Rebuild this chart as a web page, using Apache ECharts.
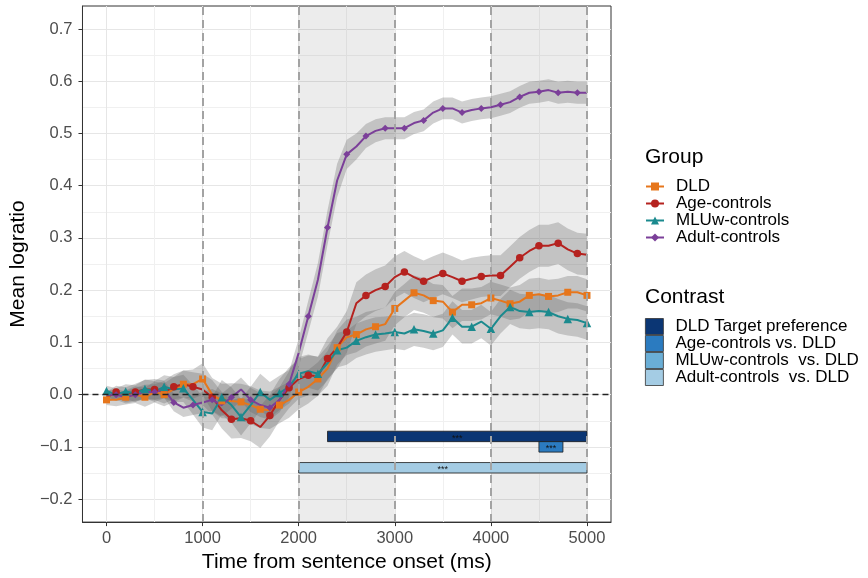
<!DOCTYPE html>
<html>
<head>
<meta charset="utf-8">
<script src="https://cdn.jsdelivr.net/npm/echarts@6/dist/echarts.min.js"></script>
<style>
  html, body { margin: 0; padding: 0; background: #fff; }
  #chart { width: 868px; height: 578px; }
</style>
</head>
<body>
<div id="chart"></div>
<script>
var timeMs = [0, 100, 200, 300, 400, 500, 600, 700, 800, 900, 1000,
  1100, 1200, 1300, 1400, 1500, 1600, 1700, 1800, 1900, 2000,
  2100, 2200, 2300, 2400, 2500, 2600, 2700, 2800, 2900, 3000,
  3100, 3200, 3300, 3400, 3500, 3600, 3700, 3800, 3900, 4000,
  4100, 4200, 4300, 4400, 4500, 4600, 4700, 4800, 4900, 5000];

var dldMean = [-0.01, -0.01, -0.005, 0.0, -0.005, 0.005, 0.0, 0.01, 0.02, 0.02, 0.03,
  0.0, -0.012, -0.012, -0.014, -0.02, -0.028, -0.03, -0.02, -0.01, 0.005,
  0.015, 0.03, 0.05, 0.09, 0.11, 0.115, 0.125, 0.13, 0.135, 0.165,
  0.18, 0.195, 0.19, 0.18, 0.178, 0.158, 0.172, 0.172, 0.175, 0.185,
  0.18, 0.174, 0.178, 0.19, 0.192, 0.188, 0.19, 0.196, 0.196, 0.19];
var ageMean = [-0.005, 0.005, 0.0, 0.005, 0.01, 0.01, 0.005, 0.015, 0.02, 0.015, 0.01,
  -0.005, -0.03, -0.047, -0.045, -0.05, -0.062, -0.04, -0.01, 0.013, 0.03,
  0.037, 0.035, 0.069, 0.09, 0.12, 0.175, 0.19, 0.2, 0.207, 0.225,
  0.235, 0.225, 0.217, 0.225, 0.232, 0.225, 0.217, 0.222, 0.226, 0.228,
  0.228, 0.245, 0.262, 0.275, 0.285, 0.285, 0.29, 0.278, 0.27, 0.268];
var mluMean = [0.007, 0.0, 0.006, 0.002, 0.011, 0.006, 0.015, 0.01, 0.012, -0.01, -0.033,
  -0.036, -0.005, -0.02, -0.043, -0.02, 0.005, -0.01, 0.003, 0.015, 0.04,
  0.045, 0.04, 0.06, 0.085, 0.09, 0.103, 0.11, 0.115, 0.117, 0.12,
  0.117, 0.125, 0.122, 0.117, 0.123, 0.147, 0.13, 0.13, 0.14, 0.126,
  0.15, 0.168, 0.16, 0.158, 0.16, 0.158, 0.15, 0.145, 0.143, 0.137];
var adultMean = [0.0, 0.0, -0.005, 0.0, 0.005, 0.005, 0.01, -0.015, -0.025, -0.02, -0.015,
  -0.01, -0.02, -0.005, 0.01, -0.01, -0.02, -0.025, -0.01, 0.02, 0.08,
  0.15, 0.22, 0.32, 0.41, 0.46, 0.475, 0.495, 0.505, 0.51, 0.51,
  0.51, 0.52, 0.525, 0.54, 0.548, 0.548, 0.54, 0.545, 0.548, 0.55,
  0.555, 0.56, 0.57, 0.578, 0.58, 0.583, 0.578, 0.58, 0.578, 0.578];

// half widths of the grey confidence ribbons
var dldCi = [0.01, 0.012, 0.014, 0.016, 0.018, 0.02, 0.022, 0.024, 0.026, 0.028, 0.03,
  0.032, 0.033, 0.034, 0.035, 0.036, 0.036, 0.036, 0.035, 0.034, 0.033,
  0.032, 0.032, 0.033, 0.033, 0.034, 0.034, 0.033, 0.032, 0.032, 0.032,
  0.032, 0.033, 0.033, 0.032, 0.032, 0.031, 0.031, 0.031, 0.031, 0.031,
  0.031, 0.031, 0.032, 0.032, 0.032, 0.032, 0.032, 0.031, 0.031, 0.031];
var ageCi = [0.01, 0.012, 0.014, 0.016, 0.018, 0.02, 0.022, 0.024, 0.026, 0.028, 0.03,
  0.033, 0.035, 0.037, 0.038, 0.039, 0.04, 0.04, 0.04, 0.039, 0.038,
  0.038, 0.038, 0.039, 0.04, 0.04, 0.04, 0.04, 0.04, 0.04, 0.04,
  0.04, 0.04, 0.04, 0.04, 0.04, 0.04, 0.04, 0.04, 0.039, 0.039,
  0.039, 0.039, 0.04, 0.04, 0.04, 0.04, 0.04, 0.04, 0.04, 0.04];
var mluCi = [0.01, 0.012, 0.014, 0.016, 0.018, 0.02, 0.022, 0.024, 0.026, 0.028, 0.03,
  0.032, 0.033, 0.034, 0.035, 0.035, 0.035, 0.034, 0.033, 0.032, 0.032,
  0.032, 0.032, 0.033, 0.033, 0.033, 0.033, 0.033, 0.033, 0.032, 0.032,
  0.032, 0.032, 0.032, 0.032, 0.032, 0.032, 0.032, 0.032, 0.032, 0.032,
  0.033, 0.033, 0.033, 0.033, 0.033, 0.033, 0.033, 0.032, 0.032, 0.032];
var adultCi = [0.008, 0.01, 0.012, 0.013, 0.014, 0.015, 0.016, 0.017, 0.018, 0.019, 0.02,
  0.021, 0.022, 0.022, 0.023, 0.023, 0.023, 0.023, 0.024, 0.025, 0.027,
  0.03, 0.032, 0.033, 0.032, 0.028, 0.025, 0.023, 0.022, 0.021, 0.021,
  0.021, 0.021, 0.021, 0.021, 0.021, 0.021, 0.021, 0.021, 0.021, 0.021,
  0.021, 0.021, 0.021, 0.021, 0.021, 0.021, 0.021, 0.021, 0.021, 0.021];

var groupNames = ['DLD', 'Age-controls', 'MLUw-controls', 'Adult-controls'];
var groupMeans = [dldMean, ageMean, mluMean, adultMean];
var groupCis = [dldCi, ageCi, mluCi, adultCi];
var groupColors = ['#e6761c', '#b5221f', '#1b8a8e', '#7b3f99'];
var groupSymbols = ['rect', 'circle', 'triangle', 'diamond'];
var groupSymbolSizes = [7, 7.5, 8.5, 7];
var markerPhase = [0, 1, 0, 1];

var contrastNames = ['DLD Target preference', 'Age-controls vs. DLD',
  'MLUw-controls  vs. DLD', 'Adult-controls  vs. DLD'];
var contrastColors = ['#0b3674', '#2b7bc0', '#6aaed6', '#a4cce4'];
var contrastStart = [2300, 4500, null, 2000];
var contrastEnd = [5000, 4750, null, 5000];
var contrastLevel = [-0.08, -0.10, -0.12, -0.14];

var xMajor = [0, 1000, 2000, 3000, 4000, 5000];
var xMinor = [500, 1500, 2500, 3500, 4500];
var yMajor = [-0.2, -0.1, 0.0, 0.1, 0.2, 0.3, 0.4, 0.5, 0.6, 0.7];
var yMinor = [-0.15, -0.05, 0.05, 0.15, 0.25, 0.35, 0.45, 0.55, 0.65];
var refTimes = [1000, 2000, 3000, 4000, 5000];
var shadeBands = [[2000, 3000], [4000, 5000]];

var FONT = '"Liberation Sans", Arial, sans-serif';
var chart = echarts.init(document.getElementById('chart'), null, { renderer: 'canvas' });

function ribbon(k) {
  var mean = groupMeans[k], ci = groupCis[k];
  return {
    type: 'custom',
    name: groupNames[k] + ' ribbon',
    silent: true,
    z: 2,
    data: [[timeMs[0], mean[0]]],
    renderItem: function (params, api) {
      var pts = [];
      for (var i = 0; i < timeMs.length; i++) {
        pts.push(api.coord([timeMs[i], mean[i] - ci[i]]));
      }
      for (var j = timeMs.length - 1; j >= 0; j--) {
        pts.push(api.coord([timeMs[j], mean[j] + ci[j]]));
      }
      return {
        type: 'polygon',
        shape: { points: pts },
        style: { fill: 'rgba(100,100,100,0.3)' }
      };
    }
  };
}

function groupLine(k) {
  return {
    type: 'line',
    name: groupNames[k],
    z: 3,
    data: timeMs.map(function (t, i) { return [t, groupMeans[k][i]]; }),
    symbol: groupSymbols[k],
    symbolSize: function (val, params) {
      return params.dataIndex % 2 === markerPhase[k] ? groupSymbolSizes[k] : 0;
    },
    showAllSymbol: true,
    lineStyle: { width: 2, color: groupColors[k] },
    itemStyle: { color: groupColors[k] }
  };
}

function contrastBar(k) {
  return {
    type: 'custom',
    name: contrastNames[k],
    z: 4,
    itemStyle: { color: contrastColors[k] },
    encode: { x: [0, 1], y: 2 },
    data: contrastStart[k] === null ? [] : [[contrastStart[k], contrastEnd[k], contrastLevel[k]]],
    renderItem: function (params, api) {
      var p1 = api.coord([api.value(0), api.value(2) + 0.01]);
      var p2 = api.coord([api.value(1), api.value(2) - 0.01]);
      return {
        type: 'group',
        children: [{
          type: 'rect',
          shape: { x: p1[0], y: p1[1], width: p2[0] - p1[0], height: p2[1] - p1[1] },
          style: { fill: contrastColors[k], stroke: '#1a1a1a', lineWidth: 0.8 }
        }, {
          type: 'text',
          style: {
            text: '***', x: (p1[0] + p2[0]) / 2, y: (p1[1] + p2[1]) / 2 + 2,
            align: 'center', verticalAlign: 'middle',
            fontSize: 9, fontFamily: FONT, fill: '#111'
          }
        }]
      };
    }
  };
}

var series = [{
  // background: shaded windows, dashed reference lines
  type: 'line',
  name: 'ref',
  data: [],
  z: 1,
  silent: true,
  markArea: {
    silent: true,
    itemStyle: { color: 'rgba(0,0,0,0.075)' },
    data: shadeBands.map(function (b) { return [{ xAxis: b[0] }, { xAxis: b[1] }]; })
  },
  markLine: {
    silent: true,
    symbol: ['none', 'none'],
    label: { show: false },
    animation: false,
    data: refTimes.map(function (t) {
      return { xAxis: t, lineStyle: { color: '#a3a3a3', width: 2, type: [8, 5] } };
    }).concat([{ yAxis: 0, lineStyle: { color: '#222', width: 1.3, type: [6, 4] } }])
  }
}];
for (var k = 0; k < 4; k++) series.push(ribbon(k));
for (var k2 = 0; k2 < 4; k2++) series.push(groupLine(k2));
for (var k3 = 0; k3 < 4; k3++) series.push(contrastBar(k3));

var labelStyle = { fontSize: 16.5, color: '#4d4d4d', fontFamily: FONT };

var option = {
  animation: false,
  textStyle: { fontFamily: FONT },
  grid: {
    left: 74, right: 257, top: 6, bottom: 54,
    show: true, backgroundColor: '#fff', borderColor: '#333', borderWidth: 1
  },
  title: [{
    text: 'Group', left: 645, top: 147, padding: 0,
    textStyle: { fontSize: 21, fontWeight: 'normal', color: '#000', fontFamily: FONT }
  }, {
    text: 'Contrast', left: 645, top: 287, padding: 0,
    textStyle: { fontSize: 21, fontWeight: 'normal', color: '#000', fontFamily: FONT }
  }],
  legend: [{
    left: 645, top: 178, orient: 'vertical', padding: 0,
    itemWidth: 18, itemHeight: 10, itemGap: 0, selectedMode: false,
    data: groupNames,
    textStyle: { fontSize: 17, lineHeight: 16.5, color: '#000', fontFamily: FONT, padding: [0, 0, 0, 7] }
  }, {
    left: 645, top: 318, orient: 'vertical', padding: 0, icon: 'rect',
    itemWidth: 18, itemHeight: 16, itemGap: 0, selectedMode: false,
    data: contrastNames.map(function (n) {
      return { name: n, itemStyle: { borderColor: '#333', borderWidth: 0.8 } };
    }),
    textStyle: { fontSize: 17, lineHeight: 16, color: '#000', fontFamily: FONT, padding: [0, 0, 0, 7] }
  }],
  xAxis: [{
    type: 'value', min: -250, max: 5250,
    name: 'Time from sentence onset (ms)', nameLocation: 'middle', nameGap: 29,
    nameTextStyle: { fontSize: 21, color: '#000', fontFamily: FONT },
    axisLine: { show: true, onZero: false, lineStyle: { color: '#333', width: 1 } },
    axisTick: { show: true, customValues: xMajor, length: 4, lineStyle: { color: '#333' } },
    axisLabel: Object.assign({
      customValues: xMajor, margin: 8,
      formatter: function (v) { return String(v); }
    }, labelStyle),
    splitLine: { show: true, lineStyle: { color: '#e6e6e6', width: 1 } }
  }, {
    type: 'value', min: -250, max: 5250, position: 'bottom',
    axisLine: { show: false },
    axisTick: { show: false, customValues: xMinor },
    axisLabel: { show: false, customValues: xMinor },
    splitLine: { show: true, lineStyle: { color: '#f0f0f0', width: 1 } }
  }],
  yAxis: [{
    type: 'value', min: -0.244, max: 0.744,
    name: 'Mean logratio', nameLocation: 'middle', nameGap: 46,
    nameTextStyle: { fontSize: 21, color: '#000', fontFamily: FONT },
    axisLine: { show: true, onZero: false, lineStyle: { color: '#333', width: 1 } },
    axisTick: { show: true, customValues: yMajor, length: 4, lineStyle: { color: '#333' } },
    axisLabel: Object.assign({
      customValues: yMajor, margin: 10,
      formatter: function (v) { return v.toFixed(1).replace('-', '\u2212'); }
    }, labelStyle),
    splitLine: { show: true, lineStyle: { color: '#e6e6e6', width: 1 } }
  }, {
    type: 'value', min: -0.244, max: 0.744, position: 'left',
    axisLine: { show: false },
    axisTick: { show: false, customValues: yMinor },
    axisLabel: { show: false, customValues: yMinor },
    splitLine: { show: true, lineStyle: { color: '#f0f0f0', width: 1 } }
  }],
  series: series
};

chart.setOption(option);
</script>
</body>
</html>
